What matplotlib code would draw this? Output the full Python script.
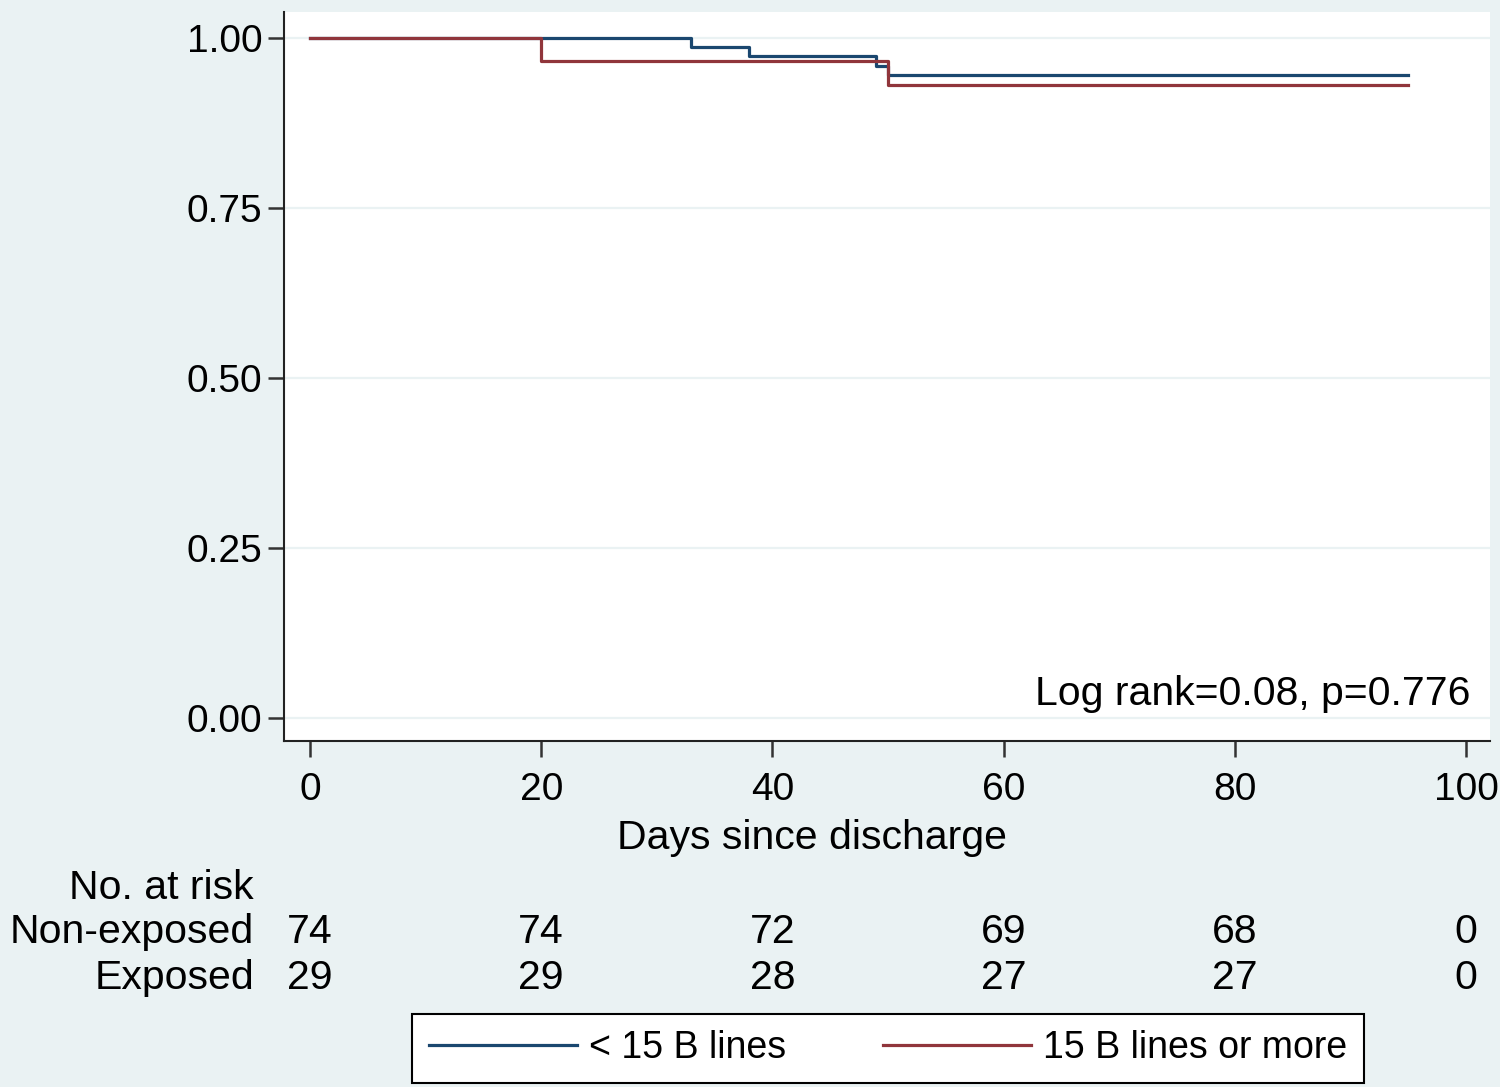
import matplotlib
matplotlib.use("Agg")
from matplotlib import pyplot as plt
from matplotlib import transforms

plt.rcParams['font.family'] = ['Liberation Sans', 'DejaVu Sans']

# Kaplan-Meier estimates
days_non = [0, 33, 38, 49, 50, 95]
surv_non = [1.0, 0.9865, 0.973, 0.959, 0.946, 0.946]
days_exp = [0, 20, 50, 95]
surv_exp = [1.0, 0.9655, 0.931, 0.931]

risk_days = [0, 20, 40, 60, 80, 100]
risk_non = [74, 74, 72, 69, 68, 0]
risk_exp = [29, 29, 28, 27, 27, 0]

yticks = [0.0, 0.25, 0.5, 0.75, 1.0]
xticks = [0, 20, 40, 60, 80, 100]

bg = "#EAF2F3"
navy = "#1A476F"
maroon = "#90353B"

fig = plt.figure(figsize=(15, 10.87), dpi=100, facecolor=bg)
ax = fig.add_axes([284/1500, 1-741/1087, (1490-284)/1500, (741-12)/1087])
ax.set_facecolor("white")

for yv in yticks:
    ax.axhline(yv, color=bg, linewidth=1.6, zorder=0)

l1, = ax.step(days_non, surv_non, where='post', color=navy, linewidth=2.3, label="< 15 B lines")
l2, = ax.step(days_exp, surv_exp, where='post', color=maroon, linewidth=2.3, label="15 B lines or more")

ax.set_xlim(-2.25, 102.08)
ax.set_ylim(-0.034, 1.038)
ax.set_xticks(xticks)
ax.set_yticks(yticks)
ax.set_yticklabels([f"{v:.2f}" for v in yticks])
ax.tick_params(axis='both', direction='out', length=11.5, width=1.8, labelsize=28, color="#333333")
ax.tick_params(axis='y', pad=4)
ax.tick_params(axis='x', pad=11)

for side in ['top', 'right']:
    ax.spines[side].set_visible(False)
for side in ['left', 'bottom']:
    ax.spines[side].set_linewidth(1.5)
    ax.spines[side].set_color("#222222")

ax.text(1470/1500, 1-694/1087, "Log rank=0.08, p=0.776", transform=fig.transFigure,
        ha='right', va='center', fontsize=29.5)

fig.text(812/1500, 1-838/1087, "Days since discharge", ha='center', va='center', fontsize=29.5)

# number at risk table
trans = transforms.blended_transform_factory(ax.transData, fig.transFigure)
y_head = 1-888/1087
y_non = 1-932/1087
y_exp = 1-978/1087
fig.text(254/1500, y_head, "No. at risk", ha='right', va='center', fontsize=29.5)
fig.text(254/1500, y_non, "Non-exposed", ha='right', va='center', fontsize=29.5)
fig.text(254/1500, y_exp, "Exposed", ha='right', va='center', fontsize=29.5)
for d, n, e in zip(risk_days, risk_non, risk_exp):
    ax.text(d, y_non, str(n), transform=trans, ha='center', va='center', fontsize=29.5, clip_on=False)
    ax.text(d, y_exp, str(e), transform=trans, ha='center', va='center', fontsize=29.5, clip_on=False)

leg = fig.legend(handles=[l1, l2], loc='lower center', bbox_to_anchor=(888/1500, 0.0),
                 ncol=2, fontsize=27, frameon=True, fancybox=False, handlelength=3.95,
                 handletextpad=0.3, columnspacing=2.6, borderpad=0.45, borderaxespad=0.1)
leg.get_frame().set_edgecolor("black")
leg.get_frame().set_linewidth(1.5)
leg.get_frame().set_facecolor("white")
leg.get_frame().set_alpha(1)

fig.savefig("out.png", dpi=100, facecolor=bg)
